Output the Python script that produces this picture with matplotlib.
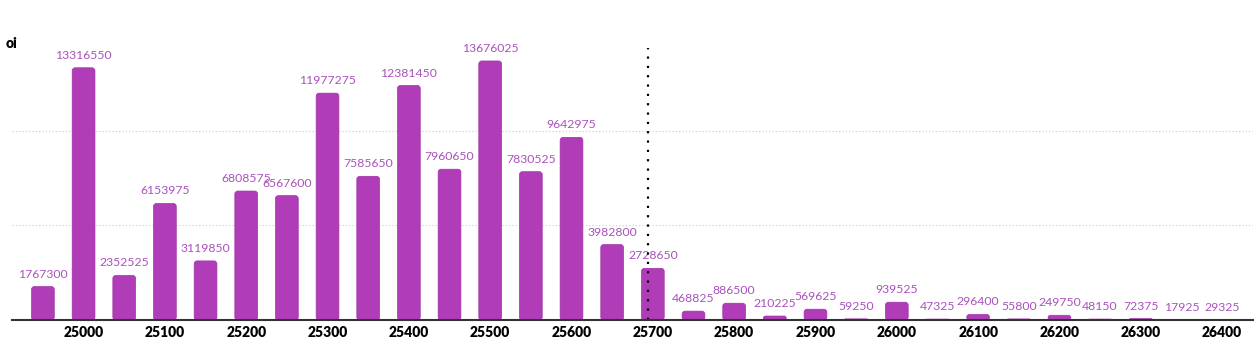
import matplotlib.pyplot as plt
from matplotlib.patches import FancyBboxPatch
import numpy as np

# Open interest per strike
strikes = [24950, 25000, 25050, 25100, 25150, 25200, 25250, 25300, 25350, 25400,
           25450, 25500, 25550, 25600, 25650, 25700, 25750, 25800, 25850, 25900,
           25950, 26000, 26050, 26100, 26150, 26200, 26250, 26300, 26350, 26400]
oi = [1767300, 13316550, 2352525, 6153975, 3119850, 6808575, 6567600, 11977275,
      7585650, 12381450, 7960650, 13676025, 7830525, 9642975, 3982800, 2728650,
      468825, 886500, 210225, 569625, 59250, 939525, 47325, 296400, 55800,
      249750, 48150, 72375, 17925, 29325]
tick_strikes = list(range(25000, 26401, 100))
spot = 25694

plt.rcParams["font.family"] = ["Lato", "DejaVu Sans"]

fig = plt.figure(figsize=(12.55, 3.41), dpi=100)
ax = fig.add_axes([12 / 1255, 21 / 341, 1241 / 1255, 272 / 341])

xmin, xmax = 24912, 26438
ymax = 14360000
ax.set_xlim(xmin, xmax)
ax.set_ylim(0, ymax)

bar_color = "#b03cb8"
label_color = "#a852bb"
bar_w = 28

# rounded bars: work out data units per pixel so the corners stay circular
x_per_px = (xmax - xmin) / 1241
y_per_px = ymax / 272
aspect = y_per_px / x_per_px
for s, v in zip(strikes, oi):
    r = min(3 * x_per_px, v / aspect / 2, bar_w / 2)
    box = FancyBboxPatch((s - bar_w / 2, 0), bar_w, v,
                         boxstyle=f"round,pad=0,rounding_size={r}",
                         mutation_aspect=aspect, facecolor=bar_color,
                         edgecolor="#a035a8", linewidth=0.5, zorder=3)
    ax.add_patch(box)
    ax.annotate(str(v), (s, v), xytext=(0, 5), textcoords="offset points",
                ha="center", va="bottom", fontsize=8.8, color=label_color, zorder=4)

# spot marker
ax.axvline(spot, color="black", linestyle=(0, (1, 3.2)), linewidth=1.6, zorder=5)

ax.set_yticks([5000000, 10000000])
ax.yaxis.grid(True, color="#cccccc", linestyle=(0, (1, 2)), linewidth=0.8, zorder=0)
ax.tick_params(axis="y", left=False, labelleft=False)

ax.set_xticks(tick_strikes)
ax.set_xticklabels([str(t) for t in tick_strikes], fontsize=10, fontweight="heavy")
ax.tick_params(axis="x", length=0, pad=4)

for side in ["top", "right", "left"]:
    ax.spines[side].set_visible(False)
ax.spines["bottom"].set_color("#333333")
ax.spines["bottom"].set_linewidth(1.5)
ax.spines["bottom"].set_zorder(6)

fig.text(6 / 1255, 1 - 44 / 341, "oi", fontsize=10, fontweight="heavy", va="center", ha="left")

fig.savefig("out.png", dpi=100)
